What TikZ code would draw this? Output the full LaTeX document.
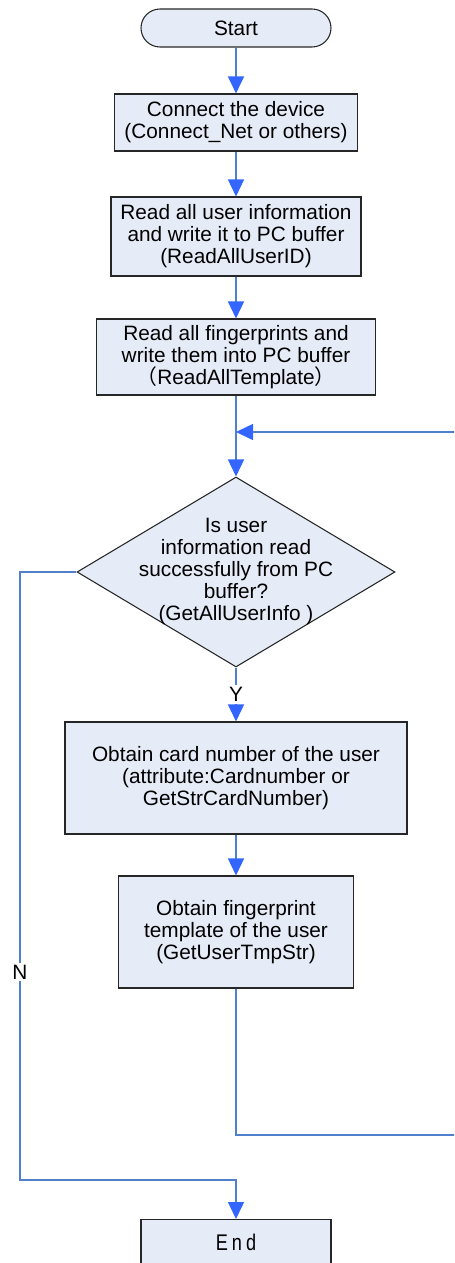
\documentclass[tikz,border=0pt]{standalone}
\usepackage{fontspec}
\setmainfont{Liberation Sans}
\newfontfamily\cjk{Noto Sans CJK SC}
\usetikzlibrary{arrows.meta,shapes.geometric}
\definecolor{boxfill}{RGB}{230,236,247}
\definecolor{linec}{RGB}{80,128,204}
\definecolor{tipc}{RGB}{51,102,255}
\begin{document}
\begin{tikzpicture}[x=0.75pt,y=-0.75pt,
  font=\fontsize{15.6}{16.5}\selectfont,
  box/.style={draw=black!85, line width=0.8pt, fill=boxfill, align=center, inner sep=0pt},
  startbox/.style={box, rounded corners=14.25pt},
  decision/.style={diamond, draw=black!85, line width=0.8pt, fill=boxfill, inner sep=0pt, minimum width=238.5pt, minimum height=142.5pt},
  flow/.style={draw=linec, line width=1.1pt, -{Triangle[length=12.75pt,width=12pt,color=tipc]}},
  lbl/.style={fill=white, inner sep=1.5pt}
]
\clip (0,0) rectangle (454,1263);
\useasboundingbox (0,0) rectangle (454,1263);

\node[startbox, minimum width=142.5pt, minimum height=28.5pt] (start) at (236,28) {Start};
\node[box, minimum width=182.25pt, minimum height=42.75pt] (b1) at (236,122.5) {Connect the device\\(Connect\_Net or others)};
\node[box, minimum width=187.5pt, minimum height=59.25pt] (b2) at (236,236.5) {Read all user information\\and write it to PC buffer\\(ReadAllUserID)};
\node[box, minimum width=209.25pt, minimum height=57pt] (b3) at (236,357) {Read all fingerprints and\\write them into PC buffer\\{\cjk （}ReadAllTemplate{\cjk ）}};
\node[decision] (dec) at (236,572) {};
\node[align=center, inner sep=0pt] (dectext) at (236,571) {Is user\\information read\\successfully from PC\\buffer?\\(GetAllUserInfo )};
\node[box, minimum width=256.5pt, minimum height=84pt] (b4) at (236,778) {Obtain card number of the user\\(attribute:Cardnumber or\\GetStrCardNumber)};
\node[box, minimum width=176.25pt, minimum height=84pt] (b5) at (236,932) {Obtain fingerprint\\template of the user\\(GetUserTmpStr)};
\node[box, minimum width=142.5pt, minimum height=34.5pt, anchor=north] (end) at (236,1219) {\fontsize{17}{18}\selectfont\scalebox{0.8}[1]{\addfontfeature{LetterSpace=22}End}};
\coordinate (join) at (236,432);
\coordinate (lc1) at (20,572);
\coordinate (lc2) at (20,1180);
\coordinate (rc1) at (470,1135);
\coordinate (rc2) at (470,432);

\draw[flow] (start) -- (b1);
\draw[flow] (b1) -- (b2);
\draw[flow] (b2) -- (b3);
\draw[flow] (b3) -- (dec);
\draw[flow] (dec) -- node[lbl]{Y} (b4);
\draw[flow] (b4) -- (b5);
\draw[flow] (b5.south) |- (rc1) -- (rc2) -- (join);
\draw[flow] (dec.west) -- (lc1) -- node[lbl, pos=0.658]{N} (lc2) -| (end.north);
\end{tikzpicture}
\end{document}
